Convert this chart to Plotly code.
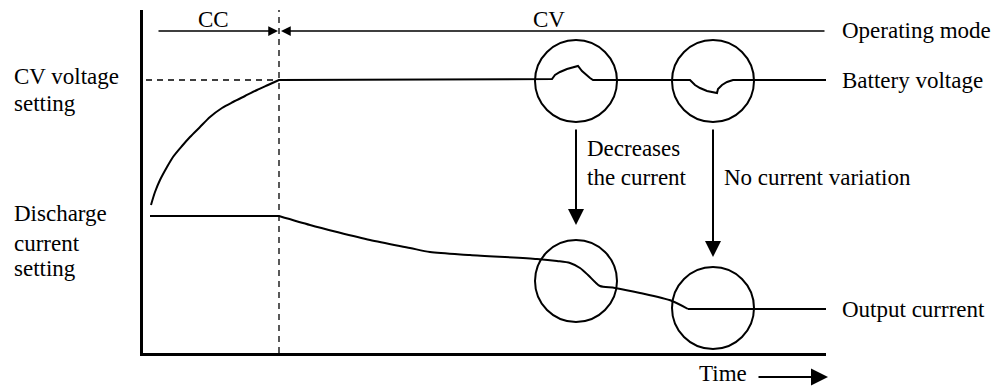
import plotly.graph_objects as go

# ---- data (schematic units: time t, level v) ----
volt_t = [8, 12, 17, 24, 30, 39, 47, 57, 67, 79, 90, 102, 114, 125, 136,
          409, 412, 417, 424, 430, 435, 439, 443, 447, 450,
          547, 552, 557, 564, 574, 575, 579, 584, 590, 683]
volt_v = [148, 161, 173, 186, 196, 207, 216, 226, 236, 245, 251, 257, 263, 268, 273,
          274, 278, 281, 284, 286, 287, 282, 278, 275, 273,
          273, 268, 265, 262, 260, 264, 268, 271, 273, 273]
rise_n = 15  # first points form the CC-phase charging curve

curr_t = [7, 136, 167, 194, 227, 267, 287, 327, 394, 414, 427, 437, 445, 452, 457,
          472, 497, 529, 545, 683]
curr_v = [137, 137, 128, 121, 113, 105, 101, 98, 94, 92, 90, 85, 78, 71, 67,
          65, 60, 52, 44, 44]

cv_setting = 273
dis_setting = 137
mode_level = 322
switch_t = 136
t_end = 683
v_top = 343

circle_t = [433, 570, 433, 570]
circle_v = [272, 272, 72, 45]
circle_r = 41

right_labels = ["Operating mode", "Battery voltage", "Output currrent"]
right_levels = [mode_level, cv_setting, 44]

left_labels = ["CV voltage", "setting", "Discharge", "current", "setting"]
left_levels = [277, 250, 140, 110, 85]

FONT = "Liberation Serif"
FS = 23


def px(t):
    return t / t_end


def py(v):
    return v / v_top


def line(xs, ys, smooth=False, width=2):
    ln = dict(color="black", width=width)
    if smooth:
        ln.update(shape="spline", smoothing=0.8)
    fig.add_trace(go.Scatter(x=xs, y=ys, mode="lines", line=ln,
                             cliponaxis=False, hoverinfo="skip"))


fig = go.Figure()
# battery voltage
line(volt_t[:rise_n], volt_v[:rise_n], smooth=True)
line(volt_t[rise_n - 1:], volt_v[rise_n - 1:])
# output current: flat CC part, smooth decline, flat end
line(curr_t[:2], curr_v[:2])
line(curr_t[1:-1], curr_v[1:-1], smooth=True)
line(curr_t[-2:], curr_v[-2:])

# dashed guides
fig.add_trace(go.Scatter(x=[switch_t, switch_t], y=[0, v_top], mode="lines",
                         line=dict(color="black", width=1.3, dash="6px,5px"),
                         cliponaxis=False, hoverinfo="skip"))
fig.add_trace(go.Scatter(x=[-8, switch_t], y=[cv_setting, cv_setting], mode="lines",
                         line=dict(color="black", width=1.3, dash="6px,5px"),
                         cliponaxis=False, hoverinfo="skip"))
fig.add_trace(go.Scatter(x=[-13, -9], y=[dis_setting, dis_setting], mode="lines",
                         line=dict(color="black", width=1.3),
                         cliponaxis=False, hoverinfo="skip"))

shapes = []
for ct, cvv in zip(circle_t, circle_v):
    shapes.append(dict(type="circle", xref="x", yref="y",
                       x0=ct - circle_r, x1=ct + circle_r,
                       y0=cvv - circle_r, y1=cvv + circle_r,
                       line=dict(color="black", width=2)))

ann = []


def arrow(x, y, ax, ay, w=1.5, size=1.2):
    ann.append(dict(x=x, y=y, ax=ax, ay=ay, xref="x", yref="y", axref="x", ayref="y",
                    showarrow=True, text="", arrowhead=2, arrowsize=size,
                    arrowwidth=w, arrowcolor="black"))


# operating mode arrows
arrow(switch_t - 1, mode_level, 14, mode_level, w=1.5, size=1.3)
arrow(switch_t + 2, mode_level, t_end, mode_level, w=1.5, size=1.3)
# effect arrows
arrow(circle_t[0], 128, circle_t[0], 225, w=2, size=1.6)
arrow(circle_t[1], 96, circle_t[1], 225, w=2, size=1.6)
# time arrow (outside plot area -> paper coordinates)
ann.append(dict(x=px(685), y=py(-24), xref="paper", yref="paper",
                ax=-71, ay=0, axref="pixel", ayref="pixel",
                showarrow=True, text="", arrowhead=2, arrowsize=1.7,
                arrowwidth=2, arrowcolor="black"))


def label(text, t, v, anchor="left"):
    ann.append(dict(x=px(t), y=py(v), xref="paper", yref="paper", text=text,
                    showarrow=False, xanchor=anchor, yanchor="middle",
                    font=dict(family=FONT, size=FS, color="black")))


label("CC", 70, 333, "center")
label("CV", 406, 333, "center")
for txt, lv in zip(right_labels, right_levels):
    label(txt, 697, lv)
for txt, lv in zip(left_labels, left_levels):
    label(txt, -131, lv)
label("Decreases", 442, 205)
label("the current", 442, 176)
label("No current variation", 579, 176)
label("Time", 606, -20, "right")

fig.update_layout(
    width=1008, height=387,
    margin=dict(l=135, r=190, t=2, b=42),
    paper_bgcolor="white", plot_bgcolor="white",
    showlegend=False,
    shapes=shapes, annotations=ann,
    xaxis=dict(range=[0, t_end], showgrid=False, zeroline=False, showticklabels=False,
               ticks="", showline=True, linecolor="black", linewidth=3, fixedrange=True),
    yaxis=dict(range=[0, v_top], showgrid=False, zeroline=False, showticklabels=False,
               ticks="", showline=True, linecolor="black", linewidth=3, fixedrange=True),
)
fig.write_html("out.html")
